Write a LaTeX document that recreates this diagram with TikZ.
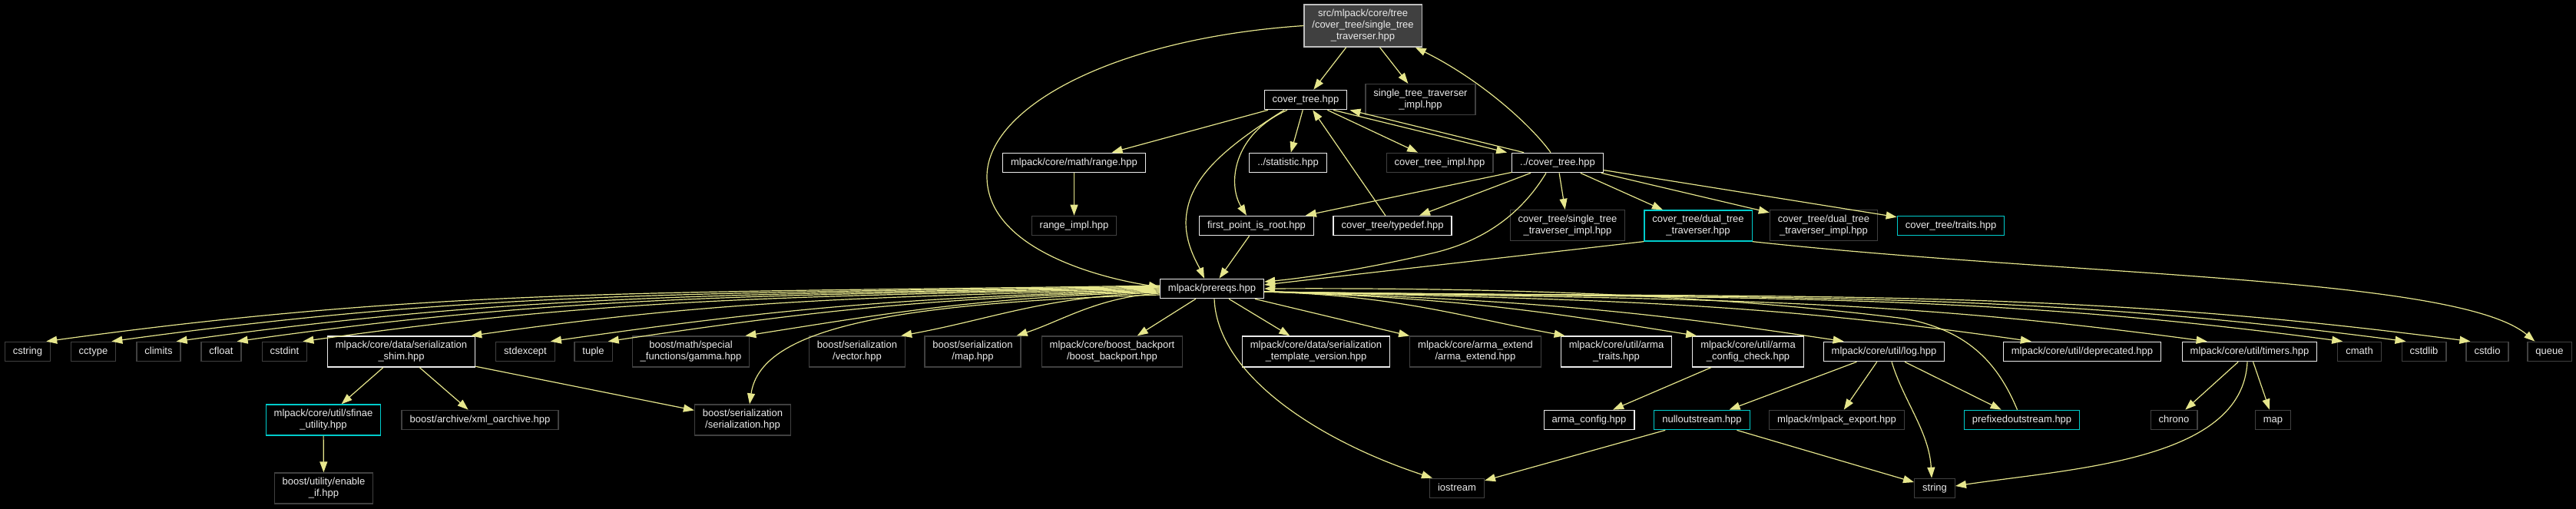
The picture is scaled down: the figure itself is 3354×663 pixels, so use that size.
\documentclass[tikz,border=0pt]{standalone}
\usepackage{fontspec}
\setmainfont{Liberation Sans}
\usetikzlibrary{arrows.meta}

\definecolor{edgec}{RGB}{230,230,140}
\definecolor{boxgray}{RGB}{64,64,64}
\definecolor{boxcyan}{RGB}{0,204,204}
\definecolor{rootfill}{RGB}{64,64,64}
\definecolor{rootline}{RGB}{191,191,191}
\definecolor{docline}{RGB}{235,235,235}
\definecolor{lbl}{RGB}{235,235,235}
\newcommand{\gvfont}{\fontsize{13}{15}\selectfont}

\begin{document}
\begin{tikzpicture}[x=1pt, y=1pt, >={Triangle[length=14pt,width=10pt]},
  inc/.style={rectangle, draw, fill=black, text=lbl, font=\gvfont, line width=1.2pt,
    inner xsep=10.5pt, inner ysep=6.5pt, align=center},
  one/.style={inc, text height=9.5pt, text depth=3pt},
  two/.style={inc},
  doc/.style={draw=docline},
  ext/.style={draw=boxgray},
  nav/.style={draw=boxcyan},
  dep/.style={->, draw=edgec, line width=1.2pt}]
  \fill[black] (0,0) rectangle (3354,-663);

  % top rows
  \node[two, fill=rootfill, draw=rootline] (root) at (1774.5,-33.5) {src/mlpack/core/tree\\/cover\_tree/single\_tree\\\_traverser.hpp};
  \node[one, doc] (ctree) at (1700,-130) {cover\_tree.hpp};
  \node[two, ext] (stimpl) at (1849.5,-129.5) {single\_tree\_traverser\\\_impl.hpp};
  \node[one, doc] (range) at (1398.5,-212) {mlpack/core/math/range.hpp};
  \node[one, doc] (stat) at (1677,-212) {../statistic.hpp};
  \node[one, ext] (ctimpl) at (1874.5,-212) {cover\_tree\_impl.hpp};
  \node[one, doc] (pct) at (2028,-212) {../cover\_tree.hpp};
  \node[one, ext] (rimpl) at (1398.5,-294) {range\_impl.hpp};
  \node[one, doc] (fpir) at (1636,-294) {first\_point\_is\_root.hpp};
  \node[one, doc] (tdef) at (1813,-294) {cover\_tree/typedef.hpp};
  \node[two, ext] (ctstimpl) at (2041,-293.5) {cover\_tree/single\_tree\\\_traverser\_impl.hpp};
  \node[two, nav] (dtt) at (2211,-294) {cover\_tree/dual\_tree\\\_traverser.hpp};
  \node[two, ext] (dtimpl) at (2374.5,-293.5) {cover\_tree/dual\_tree\\\_traverser\_impl.hpp};
  \node[one, nav] (traits) at (2540,-294) {cover\_tree/traits.hpp};
  \node[one, doc] (prereqs) at (1578,-376) {mlpack/prereqs.hpp};

  % includes of prereqs
  \node[one, ext] (cstring) at (36,-458) {cstring};
  \node[one, ext] (cctype) at (121.5,-458) {cctype};
  \node[one, ext] (climits) at (206.5,-458) {climits};
  \node[one, ext] (cfloat) at (288,-458) {cfloat};
  \node[one, ext] (cstdint) at (370.5,-458) {cstdint};
  \node[two, doc] (shim) at (522.5,-458) {mlpack/core/data/serialization\\\_shim.hpp};
  \node[one, ext] (stdexc) at (684,-458) {stdexcept};
  \node[one, ext] (tuple) at (772.5,-458) {tuple};
  \node[two, ext] (gamma) at (899.5,-458) {boost/math/special\\\_functions/gamma.hpp};
  \node[two, ext] (svector) at (1116,-458) {boost/serialization\\/vector.hpp};
  \node[two, ext] (smap) at (1266.5,-458) {boost/serialization\\/map.hpp};
  \node[two, ext] (bport) at (1448,-458) {mlpack/core/boost\_backport\\/boost\_backport.hpp};
  \node[two, doc] (tver) at (1713.5,-458) {mlpack/core/data/serialization\\\_template\_version.hpp};
  \node[two, ext] (aext) at (1921,-458) {mlpack/core/arma\_extend\\/arma\_extend.hpp};
  \node[two, doc] (atraits) at (2104.5,-458) {mlpack/core/util/arma\\\_traits.hpp};
  \node[two, doc] (acheck) at (2276,-458) {mlpack/core/util/arma\\\_config\_check.hpp};
  \node[one, doc] (log) at (2453,-458) {mlpack/core/util/log.hpp};
  \node[one, doc] (depr) at (2711,-458) {mlpack/core/util/deprecated.hpp};
  \node[one, doc] (timers) at (2929,-458) {mlpack/core/util/timers.hpp};
  \node[one, ext] (cmath) at (3072,-458) {cmath};
  \node[one, ext] (cstdlib) at (3156,-458) {cstdlib};
  \node[one, ext] (cstdio) at (3238.5,-458) {cstdio};
  \node[one, ext] (queue) at (3319.5,-458) {queue};

  % lower rows
  \node[two, nav] (sfinae) at (421,-547) {mlpack/core/util/sfinae\\\_utility.hpp};
  \node[one, ext] (xmlo) at (625,-547) {boost/archive/xml\_oarchive.hpp};
  \node[two, ext] (sser) at (967,-547) {boost/serialization\\/serialization.hpp};
  \node[one, doc] (aconf) at (2069,-547) {arma\_config.hpp};
  \node[one, nav] (nullos) at (2216,-547) {nulloutstream.hpp};
  \node[one, ext] (mexp) at (2391.5,-547) {mlpack/mlpack\_export.hpp};
  \node[one, nav] (prefos) at (2632.5,-547) {prefixedoutstream.hpp};
  \node[one, ext] (chrono) at (2830.5,-547) {chrono};
  \node[one, ext] (map) at (2959.5,-547) {map};
  \node[two, ext] (enableif) at (421.5,-636) {boost/utility/enable\\\_if.hpp};
  \node[one, ext] (iostream) at (1897,-636) {iostream};
  \node[one, ext] (string) at (2519,-636) {string};

  % edges of the upper part
  \draw[dep] (root) -- (ctree);
  \draw[dep] (root) -- (stimpl);
  \draw[dep] (root.west) .. controls (1450,-50) and (1285,-140) .. (1285,-230)
    .. controls (1285,-320) and (1420,-360) .. ([yshift=2]prereqs.west);
  \draw[dep] ([xshift=-9]pct.north) .. controls (1995,-165) and (1930,-105) .. ([xshift=-9]root.south east);
  \draw[dep] (ctree) -- (range);
  \draw[dep] (ctree) -- (stat);
  \draw[dep] (ctree) -- (ctimpl);
  \draw[dep] ([xshift=36]ctree.south) -- ([xshift=-6]pct.north west);
  \draw[dep] ([xshift=16]pct.north west) -- ([xshift=3]ctree.south east);
  \draw[dep] ([xshift=-24]ctree.south) .. controls (1605,-175) and (1598,-240) .. ([xshift=-13]fpir.north);
  \draw[dep] ([xshift=-28]ctree.south) .. controls (1590,-195) and (1545,-235) .. (1544,-290)
    .. controls (1544,-320) and (1560,-345) .. ([xshift=-10]prereqs.north);
  \draw[dep] (tdef) -- (ctree);
  \draw[dep] (range) -- (rimpl);
  \draw[dep] (pct) -- (fpir);
  \draw[dep] (pct) -- (tdef);
  \draw[dep] (pct) -- (ctstimpl);
  \draw[dep] (pct) -- (dtt);
  \draw[dep] (pct) -- (dtimpl);
  \draw[dep] (pct) -- (traits);
  \draw[dep] ([xshift=-15]pct.south) .. controls (1980,-280) and (1930,-315) .. (1864,-330)
    .. controls (1780,-350) and (1700,-362) .. ([yshift=9]prereqs.east);
  \draw[dep] (fpir) -- (prereqs);
  \draw[dep] (dtt.south west) -- ([yshift=5]prereqs.east);
  \draw[dep] (dtt.south east) .. controls (2700,-360) and (3200,-360) .. ([xshift=10]queue.north west);

  % prereqs to the left
  \draw[dep] ([yshift=4]prereqs.west) .. controls +(-650,-10) and +(510,70) .. ([xshift=-6]cstring.north east);
  \draw[dep] ([yshift=3]prereqs.west) .. controls +(-610,-10) and +(480,66) .. ([xshift=-6]cctype.north east);
  \draw[dep] ([yshift=2]prereqs.west) .. controls +(-575,-10) and +(450,62) .. ([xshift=-6]climits.north east);
  \draw[dep] ([yshift=1]prereqs.west) .. controls +(-540,-10) and +(420,59) .. ([xshift=-6]cfloat.north east);
  \draw[dep] (prereqs.west) .. controls +(-500,-10) and +(390,55) .. ([xshift=-6]cstdint.north east);
  \draw[dep] ([yshift=-1]prereqs.west) .. controls +(-400,-10) and +(315,45) .. ([xshift=-6]shim.north east);
  \draw[dep] ([yshift=-2]prereqs.west) .. controls +(-355,-10) and +(280,40) .. ([xshift=-6]stdexc.north east);
  \draw[dep] ([yshift=-3]prereqs.west) .. controls +(-320,-10) and +(250,37) .. ([xshift=-6]tuple.north east);
  \draw[dep] ([yshift=-4]prereqs.west) .. controls +(-240,-8) and +(190,30) .. ([xshift=-6]gamma.north east);
  \draw[dep] ([yshift=-5]prereqs.west) .. controls +(-150,-5) and +(120,22) .. ([xshift=-6]svector.north east);
  \draw[dep] ([yshift=-6]prereqs.west) .. controls +(-80,-5) and +(60,20) .. ([xshift=-6]smap.north east);
  \draw[dep] ([yshift=-8]prereqs.west) .. controls (1150,-395) and (990,-430) .. ([xshift=9]sser.north);
  \draw[dep] (prereqs) -- (bport);
  \draw[dep] ([xshift=3]prereqs.south) .. controls (1585,-490) and (1720,-575) .. ([xshift=4]iostream.north west);
  \draw[dep] (prereqs) -- (tver);
  \draw[dep] (prereqs) -- (aext);

  % prereqs to the right
  \draw[dep] ([yshift=-4]prereqs.east) .. controls +(175,-5) and +(-135,25) .. ([xshift=6]atraits.north west);
  \draw[dep] ([yshift=-4]prereqs.east) .. controls +(250,-8) and +(-200,32) .. ([xshift=6]acheck.north west);
  \draw[dep] ([yshift=-4]prereqs.east) .. controls +(335,-10) and +(-265,40) .. ([xshift=27]log.north west);
  \draw[dep] ([yshift=-4]prereqs.east) .. controls +(450,-10) and +(-350,50) .. ([xshift=37]depr.north west);
  \draw[dep] ([yshift=-4]prereqs.east) .. controls +(550,-10) and +(-430,58) .. ([xshift=33]timers.north west);
  \draw[dep] ([yshift=-4]prereqs.east) .. controls +(630,-10) and +(-490,65) .. ([xshift=7]cmath.north west);
  \draw[dep] ([yshift=-4]prereqs.east) .. controls +(670,-10) and +(-520,68) .. ([xshift=6]cstdlib.north west);
  \draw[dep] ([yshift=-4]prereqs.east) .. controls +(700,-10) and +(-550,72) .. ([xshift=6]cstdio.north west);

  % lower part
  \draw[dep] (shim) -- (sfinae);
  \draw[dep] (shim) -- (xmlo);
  \draw[dep] (shim) -- (sser);
  \draw[dep] (sfinae) -- (enableif);
  \draw[dep] (acheck) -- (aconf);
  \draw[dep] (log) -- (nullos);
  \draw[dep] (log) -- (mexp);
  \draw[dep] (log) -- (prefos);
  \draw[dep] ([xshift=10]log.south) .. controls +(15,-50) and +(-3,60) .. ([xshift=-4]string.north);
  \draw[dep] (nullos) -- (iostream);
  \draw[dep] (nullos) -- (string);
  \draw[dep] (timers) -- (chrono);
  \draw[dep] (timers) -- (map);
  \draw[dep] ([xshift=-3]timers.south) .. controls (2920,-600) and (2700,-610) .. ([yshift=3]string.east);
  \draw[dep] ([xshift=-6]prefos.north) .. controls (2600,-470) and (2560,-430) .. (2480,-415)
    .. controls (2200,-380) and (1900,-375) .. (prereqs.east);
\end{tikzpicture}
\end{document}
